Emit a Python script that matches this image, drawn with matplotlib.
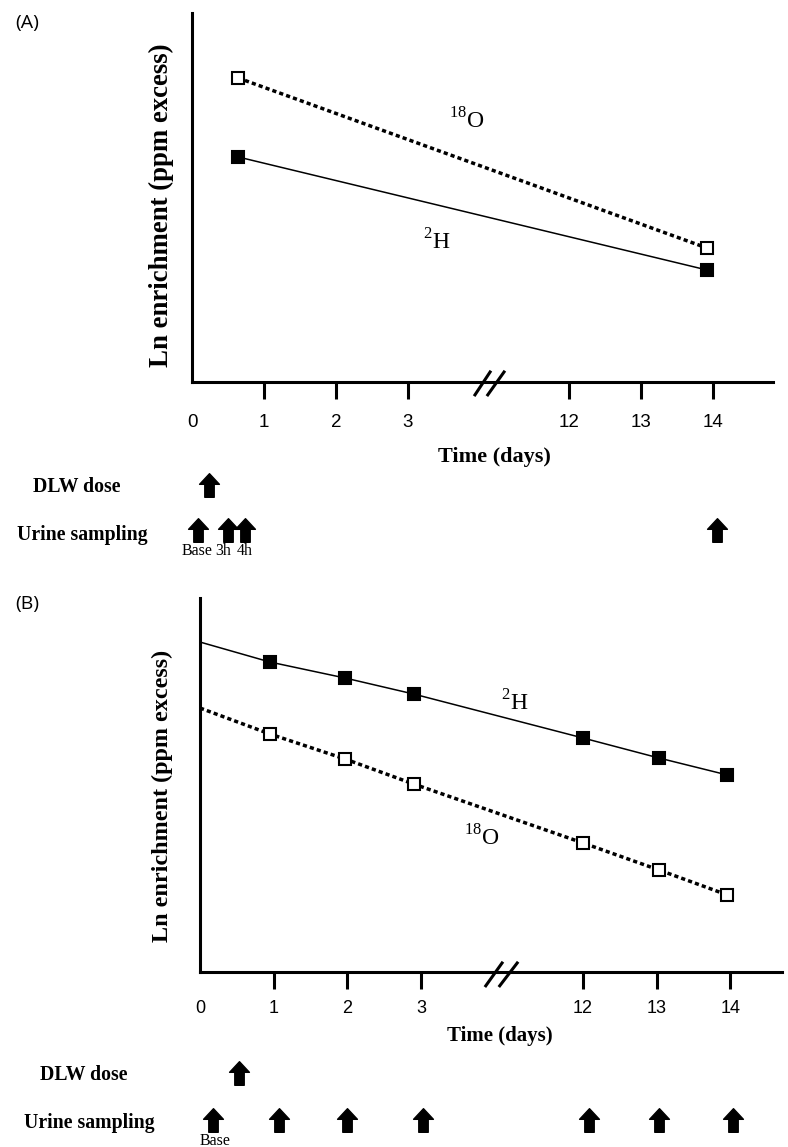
import numpy as np
import matplotlib.pyplot as plt
import matplotlib.transforms as mtransforms
from matplotlib.path import Path

plt.rcParams['font.family'] = 'Liberation Sans'
plt.rcParams['mathtext.fontset'] = 'custom'
plt.rcParams['mathtext.rm'] = 'Liberation Serif'
SERIF = 'Liberation Serif'

# ---- data (arbitrary ln-enrichment units, time in days) ----
tick_days = [1, 2, 3, 12, 13, 14]
tick_labels = ['1', '2', '3', '12', '13', '14']

# panel A: two-point method
a_days = [0.64, 13.91]
a_o18 = [304, 134]
a_h2 = [225, 112]
a_dose_days = [0.24]
a_urine_days = [0.08, 0.5, 0.74, 14.05]
a_urine_labels = ['Base', '3h', '4h']
a_urine_label_days = [0.07, 0.43, 0.73]

# panel B: multi-point method
b_days = [0.95, 1.97, 2.9, 12.0, 13.03, 13.96]
b_h2 = [310, 294, 278, 234, 214, 197]
b_o18 = [238, 213, 188, 129, 102, 77]
b_h2_start = 330     # fitted line value at day 0
b_o18_start = 264
b_dose_days = [0.53]
b_urine_days = [0.18, 1.07, 2.0, 3.03, 12.08, 13.03, 14.03]
b_urine_labels = ['Base']
b_urine_label_days = [0.2]

ARROW = Path([(-0.2, -0.5), (0.2, -0.5), (0.2, 0.05), (0.42, 0.05),
              (0.0, 0.5), (-0.42, 0.05), (-0.2, 0.05), (-0.2, -0.5)],
             [Path.MOVETO] + [Path.LINETO] * 6 + [Path.CLOSEPOLY])

fig = plt.figure(figsize=(7.88, 11.47), dpi=100)


def broken_scale(ax, off, cut=4.1):
    def fwd(d):
        d = np.asarray(d, dtype=float)
        return np.where(d <= cut, d, np.where(d >= cut + off, d - off, cut))

    def inv(c):
        c = np.asarray(c, dtype=float)
        return np.where(c <= cut, c, c + off)

    ax.set_xscale('function', functions=(fwd, inv))


def style_axes(ax, tick_size, pad, brk):
    for s in ('top', 'right'):
        ax.spines[s].set_visible(False)
    for s in ('left', 'bottom'):
        ax.spines[s].set_linewidth(2.2)
    ax.set_yticks([])
    ax.set_xticks(tick_days)
    ax.set_xticklabels(tick_labels)
    ax.tick_params(axis='x', which='major', length=12.2, width=2.2,
                   direction='out', pad=pad, labelsize=tick_size)
    ax.set_xticks([0], minor=True)
    ax.set_xticklabels(['0'], minor=True)
    ax.tick_params(axis='x', which='minor', length=0, pad=pad + 12.2,
                   labelsize=tick_size)
    # axis break "//"
    x0, x1, x2, x3, y0, y1 = brk
    ax.plot([x0, x1], [y0, y1], color='black', lw=2.2,
            transform=ax.transAxes, clip_on=False)
    ax.plot([x2, x3], [y0, y1], color='black', lw=2.2,
            transform=ax.transAxes, clip_on=False)


def arrow_row(ax, days, yfig):
    tr = mtransforms.blended_transform_factory(ax.transData, fig.transFigure)
    ax.plot(days, [yfig] * len(days), ls='none', marker=ARROW, ms=17,
            color='black', transform=tr, clip_on=False)


def row_labels(ax, days, labels, yfig):
    tr = mtransforms.blended_transform_factory(ax.transData, fig.transFigure)
    for d, lab in zip(days, labels):
        ax.text(d, yfig, lab, transform=tr, ha='center', va='center',
                family=SERIF, fontsize=11.5, clip_on=False)


dotted = dict(color='black', lw=2.5, ls=(0, (1.2, 0.9)), dash_capstyle='butt')
solid = dict(color='black', lw=1.1)
open_sq = dict(ls='none', marker='s', ms=9, mfc='white', mec='black', mew=1.5)
fill_sq = dict(ls='none', marker='s', ms=9, mfc='black', mec='black', mew=1.5)

# ---------------- panel A ----------------
axA = fig.add_axes([0.2437, 0.6670, 0.7373, 0.3217])
broken_scale(axA, 6.76)
axA.plot(a_days, a_o18, **dotted)
axA.plot(a_days, a_h2, **solid)
axA.plot(a_days, a_o18, **open_sq)
axA.plot(a_days, a_h2, **fill_sq)
style_axes(axA, 13.5, 11, (0.487, 0.513, 0.509, 0.537, -0.035, 0.027))
axA.set_xlim(0, 14.83)
axA.set_ylim(0, 369)
axA.text(0.473, 0.707, r'$^{\mathrm{18}}$O', transform=axA.transAxes,
         ha='center', va='center', family=SERIF, fontsize=17)
axA.text(0.422, 0.379, r'$^{\mathrm{2}}$H', transform=axA.transAxes,
         ha='center', va='center', family=SERIF, fontsize=17)
axA.text(-0.052, 0.48, 'Ln enrichment (ppm excess)', transform=axA.transAxes,
         rotation=90, ha='center', va='center', family=SERIF,
         fontweight='bold', fontsize=19.3)
axA.text(0.52, -0.203, 'Time (days)', transform=axA.transAxes, ha='center',
         va='center', family=SERIF, fontweight='bold', fontsize=16)
arrow_row(axA, a_dose_days, 0.5772)
arrow_row(axA, a_urine_days, 0.5379)
row_labels(axA, a_urine_label_days, a_urine_labels, 0.5196)
fig.text(0.0977, 0.5754, 'DLW dose', ha='center', va='center', family=SERIF,
         fontweight='bold', fontsize=14.2)
fig.text(0.104, 0.5336, 'Urine sampling', ha='center', va='center',
         family=SERIF, fontweight='bold', fontsize=14.2)
fig.text(0.019, 0.980, '(A)', ha='left', va='center', family='Open Sans',
         fontsize=14)

# ---------------- panel B ----------------
axB = fig.add_axes([0.2538, 0.1526, 0.7386, 0.326])
broken_scale(axB, 6.8)
axB.plot([0] + b_days, [b_o18_start] + b_o18, **dotted)
axB.plot([0] + b_days, [b_h2_start] + b_h2, **solid)
axB.plot(b_days, b_o18, **open_sq)
axB.plot(b_days, b_h2, **fill_sq)
style_axes(axB, 13, 8.3, (0.491, 0.519, 0.515, 0.545, -0.037, 0.024))
axB.set_xlim(0, 14.7)
axB.set_ylim(0, 374)
axB.text(0.541, 0.721, r'$^{\mathrm{2}}$H', transform=axB.transAxes,
         ha='center', va='center', family=SERIF, fontsize=17)
axB.text(0.485, 0.358, r'$^{\mathrm{18}}$O', transform=axB.transAxes,
         ha='center', va='center', family=SERIF, fontsize=17)
axB.text(-0.064, 0.47, 'Ln enrichment (ppm excess)', transform=axB.transAxes,
         rotation=90, ha='center', va='center', family=SERIF,
         fontweight='bold', fontsize=17.4)
axB.text(0.515, -0.171, 'Time (days)', transform=axB.transAxes, ha='center',
         va='center', family=SERIF, fontweight='bold', fontsize=15)
arrow_row(axB, b_dose_days, 0.0645)
arrow_row(axB, b_urine_days, 0.0235)
row_labels(axB, b_urine_label_days, b_urine_labels, 0.0052)
fig.text(0.1066, 0.0628, 'DLW dose', ha='center', va='center', family=SERIF,
         fontweight='bold', fontsize=14.2)
fig.text(0.113, 0.0209, 'Urine sampling', ha='center', va='center',
         family=SERIF, fontweight='bold', fontsize=14.2)
fig.text(0.019, 0.473, '(B)', ha='left', va='center', family='Open Sans',
         fontsize=14)

fig.savefig('out.png', dpi=100)
